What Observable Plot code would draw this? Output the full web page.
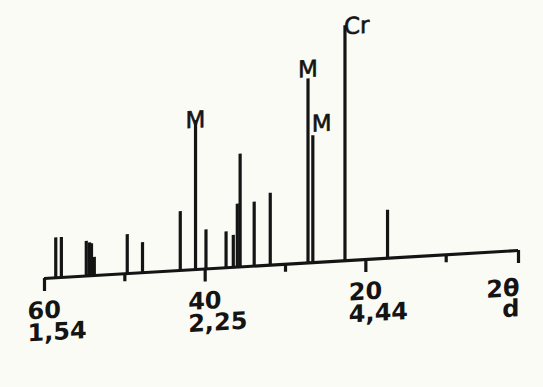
<!DOCTYPE html>
<html>
<head>
<meta charset="utf-8">
<script src="https://cdn.jsdelivr.net/npm/d3@7"></script>
<script src="https://cdn.jsdelivr.net/npm/@observablehq/plot@0.6"></script>
<style>
  body { margin: 0; background: #fbfbf5; }
  #chart svg { display: block; }
</style>
</head>
<body>
<div id="chart"></div>
<script>
// Diffraction peaks: 2θ position (degrees) and relative intensity (Cr = 100)
const theta = [58.6, 57.9, 54.8, 54.4, 54.15, 53.8, 49.7, 47.8, 43.1, 41.2, 39.9, 37.4, 36.5, 36.0, 35.65, 33.9, 31.9, 27.2, 26.6, 22.6, 17.3];
const intensity = [17, 17, 14.7, 14, 13.6, 7.7, 16.6, 12.8, 25, 63.4, 16.6, 15.3, 13.6, 26.8, 48, 27.2, 30.6, 78.3, 54, 100, 20.4];
const phase = ["", "", "", "", "", "", "", "", "", "M", "", "", "", "", "", "", "", "M", "M", "Cr", ""];

// Axis ticks
const majorTheta = [60, 40, 20];
const majorD = ["1,54", "2,25", "4,44"];
const minorTheta = [50, 30, 10];
const endTheta = [1];
const endLabel = ["2θ\nd"];

const peaks = theta.map((t, i) => ({theta: t, intensity: intensity[i], phase: phase[i], i}));
const tickLabels = majorTheta.map((t, i) => ({theta: t, label: t + "\n" + majorD[i]}));
const endLabels = endTheta.map((t, i) => ({theta: t, label: endLabel[i]}));

const ink = "#141414";
const tickFont = {fontFamily: "DejaVu Sans", fontSize: 24, fontWeight: "bold", fill: ink};
const phaseFont = {fontFamily: "DejaVu Sans", fontSize: 23, fill: ink, stroke: ink, strokeWidth: 0.6};

const svg = Plot.plot({
  width: 543,
  height: 387,
  marginLeft: 44,
  marginRight: 25,
  marginTop: 43,
  marginBottom: 109,
  style: {background: "transparent", color: ink, overflow: "visible"},
  x: {domain: [60, 1]},
  y: {domain: [0, 100], axis: null},
  marks: [
    Plot.axisX({ticks: majorTheta, tickSize: 13, tickFormat: () => "", label: null, strokeWidth: 3.2, stroke: ink}),
    Plot.axisX({ticks: minorTheta, tickSize: 8, tickFormat: () => "", label: null, strokeWidth: 3.2, stroke: ink}),
    Plot.axisX({ticks: endTheta, tickSize: 13, tickFormat: () => "", label: null, strokeWidth: 3.2, stroke: ink}),
    Plot.ruleY([0], {strokeWidth: 3.2, stroke: ink}),
    Plot.ruleX(peaks, {x: "theta", y1: 0, y2: "intensity", strokeWidth: 3.2, stroke: ink}),
    // tick labels (2θ over d)
    Plot.text(tickLabels, {x: "theta", frameAnchor: "bottom", text: "label", textAnchor: "start", dx: -17, dy: 44,
      lineAnchor: "middle", lineHeight: 0.92, ...tickFont}),
    Plot.text(endLabels, {x: "theta", frameAnchor: "bottom", text: "label", textAnchor: "end", dx: 1, dy: 49,
      lineAnchor: "middle", lineHeight: 0.85, ...tickFont}),
    // phase labels
    Plot.text(peaks.filter(d => d.i === 9), {x: "theta", y: "intensity", text: "phase", textAnchor: "middle",
      lineAnchor: "bottom", dy: 7, ...phaseFont}),
    Plot.text(peaks.filter(d => d.i === 17), {x: "theta", y: "intensity", text: "phase", textAnchor: "middle",
      lineAnchor: "bottom", dy: -2, ...phaseFont}),
    Plot.text(peaks.filter(d => d.i === 18), {x: "theta", y: "intensity", text: "phase", textAnchor: "start",
      dx: -1, lineAnchor: "bottom", dy: -4, ...phaseFont}),
    Plot.text(peaks.filter(d => d.i === 19), {x: "theta", y: "intensity", text: "phase", textAnchor: "start",
      dx: -1, lineAnchor: "middle", dy: 1, ...phaseFont})
  ]
});

// the printed figure is slightly sheared: horizontal lines rise to the right
svg.style.transformOrigin = "44px 0px";
svg.style.transform = "skewY(-3.38deg)";
document.getElementById("chart").appendChild(svg);
</script>
</body>
</html>
